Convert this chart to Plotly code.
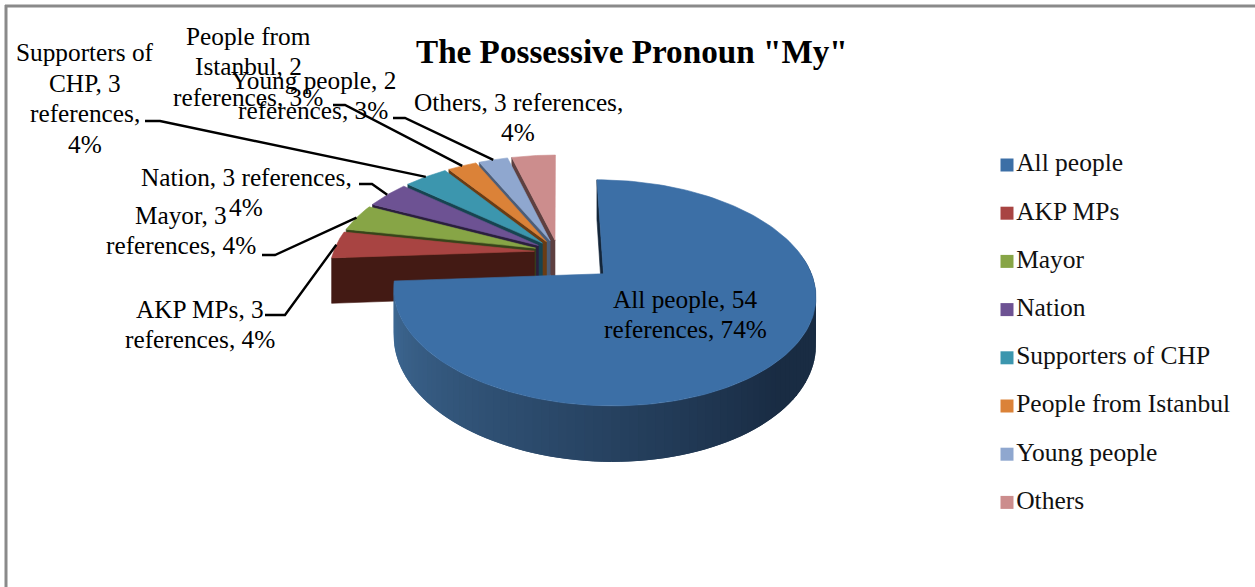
import numpy as np
import plotly.graph_objects as go

title = 'The Possessive Pronoun "My"'
categories = ["All people", "AKP MPs", "Mayor", "Nation", "Supporters of CHP",
              "People from Istanbul", "Young people", "Others"]
references = [54, 3, 3, 3, 3, 2, 2, 3]
label_lines = [["All people, {v}", "references, {p}%"],
               ["AKP MPs, {v}", "references, {p}%"],
               ["Mayor, {v}", "references, {p}%"],
               ["Nation, {v} references,", "{p}%"],
               ["Supporters of", "CHP, {v}", "references,", "{p}%"],
               ["People from", "Istanbul, {v}", "references, {p}%"],
               ["Young people, {v}", "references, {p}%"],
               ["Others, {v} references,", "{p}%"]]
top_colors = ["#3c6fa6", "#a84442", "#87a546", "#6d5293", "#3c96ae", "#db8238", "#8fa7cf", "#cc8d8d"]
wall_colors = ["#1b3048", "#431a14", "#37441a", "#2b1f3e", "#174450", "#6a3c14", "#4c5d78", "#5e4040"]

# layout of the labels and leader lines
label_pos = [(685, 314), (200, 324), (181, 230), (246, 192), (85, 98), (248, 66), (313, 95), (518, 117)]
leader_elbows = [None, [(265, 315), (285, 315)], [(262, 255), (275, 255)], [(359, 184), (372, 184)],
                 [(145, 121), (160, 121)], [(333, 105), (345, 105)], [(393, 118), (405, 118)], None]
explode = [0.30, 0.118, 0.118, 0.118, 0.118, 0.118, 0.118, 0.118]
CX, CY, RX, RY, K, DEPTH = 558, 252, 201, 102.6, 0.163, 45
FONT = "Liberation Serif"
LABEL_SIZE = 25.3
LINE_STEP = 30.5

total = sum(references)
fracs = np.array(references) / total
ends = np.cumsum(fracs) * 2 * np.pi
starts = ends - fracs * 2 * np.pi


def project(u, v, dz=0.0):
    d = 1 + K * v
    return CX + RX * u / d, CY - RY * v / d + dz * DEPTH / d


def disc(i, a, r=1.0):
    mid = (starts[i] + ends[i]) / 2
    return explode[i] * np.sin(mid) + r * np.sin(a), explode[i] * np.cos(mid) + r * np.cos(a)


def poly(fig, x, y, color, width=0.6):
    fig.add_trace(go.Scatter(x=list(x), y=list(y), mode="lines", fill="toself", fillcolor=color,
                             line=dict(color=color, width=width), hoverinfo="skip", showlegend=False))


def wall(fig, i, a, color):
    u0, v0 = disc(i, a, 0)
    u1, v1 = disc(i, a, 1)
    xa, ya = project(u0, v0)
    xb, yb = project(u1, v1)
    xc, yc = project(u1, v1, 1)
    xd, yd = project(u0, v0, 1)
    poly(fig, [xa, xb, xc, xd, xa], [ya, yb, yc, yd, ya], color)


def top(fig, i, color):
    a = np.linspace(starts[i], ends[i], 160)
    u, v = disc(i, a)
    x, y = project(u, v)
    ua, va = disc(i, 0, 0)
    xa, ya = project(ua, va)
    poly(fig, np.r_[xa, x, xa], np.r_[ya, y, ya], color)


def lerp(c1, c2, t):
    return "rgb(%d,%d,%d)" % tuple(c1[j] + (c2[j] - c1[j]) * t for j in range(3))


fig = go.Figure()

# small slices, back to front
for i in range(len(categories) - 1, 0, -1):
    wall(fig, i, starts[i], wall_colors[i])
    top(fig, i, top_colors[i])

# exploded main slice: far wall, shaded rim, top face
wall(fig, 0, starts[0], "#14263a")
edges = np.linspace(ends[0], np.radians(80), 92)
for n in range(len(edges) - 2):
    a = np.linspace(edges[n], edges[n + 2], 6)
    u, v = disc(0, a)
    x1, y1 = project(u, v)
    x2, y2 = project(u, v, 1)
    t = min(1.0, n / 64)
    poly(fig, np.r_[x1, x2[::-1]], np.r_[y1, y2[::-1]], lerp((64, 107, 151), (25, 44, 67), t), width=0)
top(fig, 0, top_colors[0])

# leader lines end on the middle of each slice's outer arc
for i, elbow in enumerate(leader_elbows):
    if elbow is None:
        continue
    u, v = disc(i, (starts[i] + ends[i]) / 2)
    ex, ey = project(u, v)
    xs = [p[0] for p in elbow] + [float(ex)]
    ys = [p[1] for p in elbow] + [float(ey)]
    fig.add_trace(go.Scatter(x=xs, y=ys, mode="lines", line=dict(color="#000000", width=2.4),
                             hoverinfo="skip", showlegend=False))

# legend block
fig.add_trace(go.Scatter(
    x=[1007] * len(categories), y=[165 + 48.2 * i for i in range(len(categories))],
    mode="markers+text", text=categories, textposition="middle right",
    textfont=dict(family=FONT, size=25.5, color="#111111"),
    marker=dict(symbol="square", size=13, color=top_colors),
    hoverinfo="skip", showlegend=False))

annotations = []
for i, lines in enumerate(label_lines):
    pct = round(100 * references[i] / total)
    for j, s in enumerate(lines):
        annotations.append(dict(
            x=label_pos[i][0], y=label_pos[i][1] + (j - (len(lines) - 1) / 2) * LINE_STEP,
            xref="x", yref="y", text=s.format(v=references[i], p=pct),
            showarrow=False, align="center", xanchor="center", yanchor="middle",
            font=dict(family=FONT, size=LABEL_SIZE, color="#000000")))
annotations.append(dict(x=632, y=51, xref="x", yref="y", text="<b>%s</b>" % title, showarrow=False,
                        xanchor="center", yanchor="middle",
                        font=dict(family=FONT, size=33.2, color="#000000")))

frame = dict(type="line", xref="x", yref="y", line=dict(color="#8a8a8a", width=3))
fig.update_layout(
    width=1255, height=587, margin=dict(l=0, r=0, t=0, b=0), showlegend=False,
    paper_bgcolor="#ffffff", plot_bgcolor="#ffffff",
    xaxis=dict(range=[0, 1255], visible=False, fixedrange=True),
    yaxis=dict(range=[587, 0], visible=False, fixedrange=True),
    annotations=annotations,
    shapes=[dict(frame, x0=5, y0=6, x1=1255, y1=6), dict(frame, x0=6, y0=5, x1=6, y1=587)],
)
fig.write_html("out.html", config={"displayModeBar": False},
               post_script="document.body.style.margin='0';")
